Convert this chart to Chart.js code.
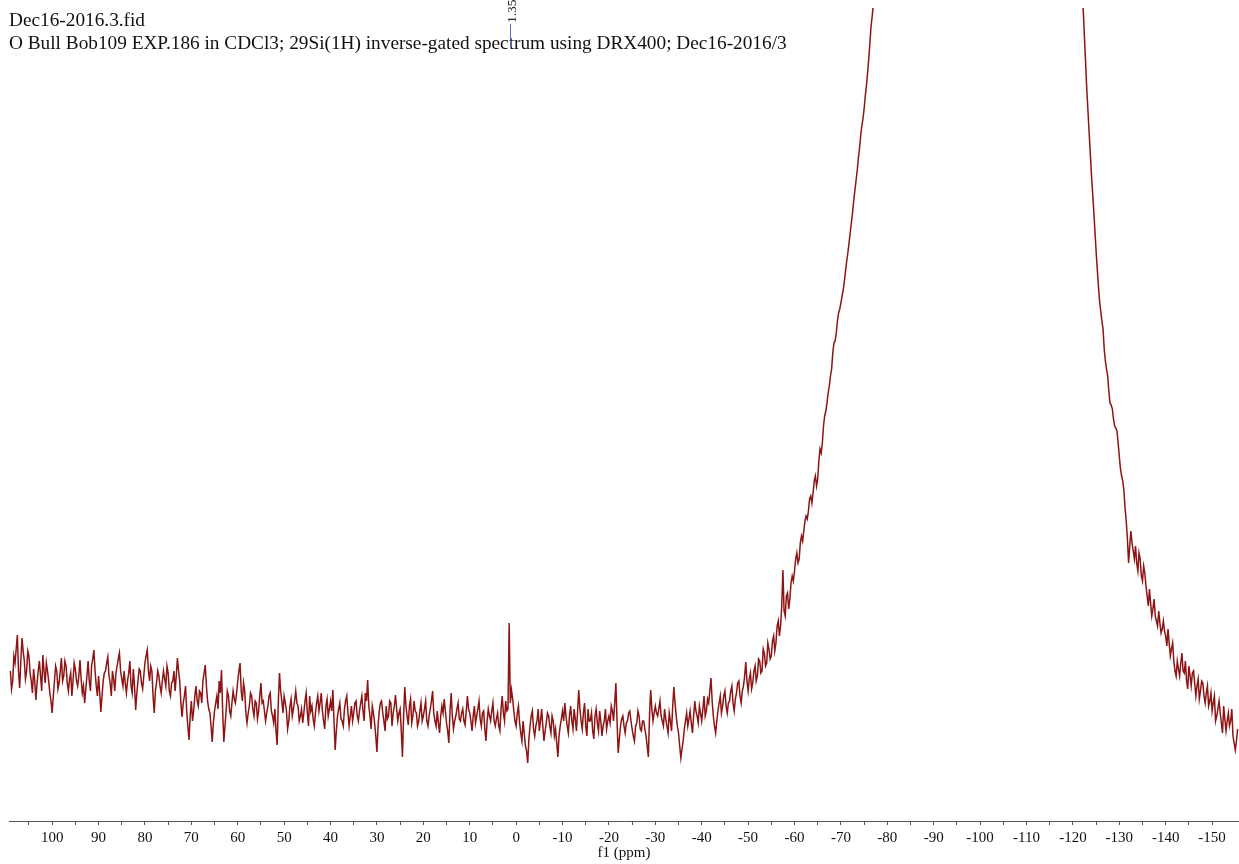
<!DOCTYPE html>
<html>
<head>
<meta charset="utf-8">
<script src="https://cdn.jsdelivr.net/npm/chart.js@4.4.1/dist/chart.umd.min.js"></script>
<style>
  html, body { margin: 0; padding: 0; background: #ffffff; overflow: hidden; }
  canvas { display: block; }
</style>
</head>
<body>
<canvas id="chart" width="1239" height="864"></canvas>
<script>
// ---------- texts ----------
const headerTitle = 'Dec16-2016.3.fid';
const headerSubtitle = 'O Bull Bob109 EXP.186 in CDCl3; 29Si(1H) inverse-gated spectrum using DRX400; Dec16-2016/3';
const axisTitle = 'f1 (ppm)';

// ---------- peak labels (ppm) ----------
const peakLabels = [1.35];

// ---------- x-axis ticks (ppm) ----------
const majorTicks = [100, 90, 80, 70, 60, 50, 40, 30, 20, 10, 0, -10, -20, -30, -40, -50, -60, -70, -80, -90, -100, -110, -120, -130, -140, -150];
const minorTicks = [105, 95, 85, 75, 65, 55, 45, 35, 25, 15, 5, -5, -15, -25, -35, -45, -55, -65, -75, -85, -95, -105, -115, -125, -135, -145];

// ---------- spectrum, segment 1: 109 -> -77 ppm, every 0.25 ppm (arbitrary intensity units) ----------
const seg1Start = 109, seg1Step = -0.25;
const s1_109 = [150,132,140,165,158,172,186,150,133,160,183,170,160,142,150,170,165,148,140,128,152,140,121,138,150,160,145,130,166,150,138,158,150,140,128,120];
const s1_100 = [108,125,140,155,150,132,138,150,163,140,145,160,155,138,130,142,148,125,140,158,152,140,135,145,161,142,128,135,118,132,145,160,140,130,155,162,171,150,135,125];
const s1_90 = [145,128,109,125,140,148,150,158,164,145,138,125,150,142,130,148,155,162,168,150,142,135,150,138,128,140,148,160,135,128,152,135,111,128,140,152,150,138,132,145];
const s1_80 = [158,165,171,150,140,155,150,125,108,130,138,150,145,135,128,140,150,142,135,155,148,130,125,138,140,150,130,145,163,150,140,118,104,118,125,135,110,95,81,105];
const s1_70 = [120,100,110,125,135,120,115,130,128,118,140,148,156,135,120,112,108,95,79,98,110,118,125,112,140,128,151,110,79,95,110,130,125,110,105,118,130,122,118,128];
const s1_60 = [140,150,158,130,120,138,130,108,98,108,115,128,125,112,105,120,118,102,110,125,138,118,120,110,100,108,115,125,128,110,105,98,112,90,76,120,148,130,120,108];
const s1_50 = [125,118,110,92,100,115,122,105,112,120,130,118,115,100,105,112,98,108,120,128,108,95,125,110,115,102,95,108,118,125,110,118,128,110,100,92,115,122,105,112];
const s1_40 = [120,110,131,100,71,90,105,112,118,102,100,95,112,120,125,108,95,105,115,100,108,118,120,105,100,110,118,125,110,100,128,120,141,115,105,92,115,108,98,85];
const s1_30 = [69,95,110,118,120,108,100,90,115,102,105,120,118,95,108,115,126,112,100,108,112,90,64,105,134,115,105,96,115,122,98,105,120,110,108,95,100,110,118,100];
const s1_20 = [105,112,120,100,95,105,112,120,130,108,100,95,110,98,88,105,115,108,122,110,98,90,78,110,128,105,92,100,105,112,118,102,100,108,112,100,96,110,125,112];
const s1_10 = [108,100,90,105,115,98,105,112,120,102,95,108,110,92,80,100,112,105,100,110,118,100,95,102,108,95,90,112,125,108,100,120,110,112,198,118,131,122,110,100];
const s1_0 = [95,108,115,98,88,80,100,88,75,70,58,82,95,105,110,92,85,95,100,112,90,100,112,95,80,90,98,108,105,95,88,105,100,85,92,78,64,85,95,102];
const s1_m10 = [110,100,118,105,95,88,105,115,100,92,112,102,90,110,131,112,100,92,108,118,95,85,112,100,100,108,90,82,105,112,98,90,110,100,85,95,100,112,92,100];
const s1_m20 = [105,98,115,110,100,118,138,100,68,82,95,102,105,95,88,98,100,108,110,100,92,85,80,95,98,110,105,92,90,100,100,92,85,75,64,105,131,112,100,108];
const s1_m30 = [115,108,105,112,120,105,100,95,112,102,95,88,108,100,90,115,134,118,105,95,88,75,63,72,80,92,100,108,95,102,110,98,88,105,120,110,105,98,115,108];
const s1_m40 = [100,112,125,105,110,122,118,130,143,120,105,95,88,100,110,118,125,108,115,125,130,115,108,118,120,130,135,118,110,122,128,138,140,125,118,130,135,145,159,140];
const s1_m50 = [130,142,148,132,138,150,155,140,145,162,160,148,150,172,168,155,158,178,172,162,165,180,185,170,178,195,200,185,195,215,251,210,205,225,228,212,222,238,245,240];
const s1_m60 = [250,262,268,258,262,278,285,280,290,300,305,302,310,322,325,318,328,340,345,335,342,360,372,368,378,395,405,410,418,428,435,445,452,468,478,480,488,500,508,512];
const s1_m70 = [518,525,531,540,550,560,568,578,588,598,608,620,630,640,650,662,672,685,695,702,712,725,735,748,762,778,795,805,818];

// ---------- spectrum, segment 2: -77.5 -> -121.5 ppm, every 0.5 ppm (main peak, off scale) ----------
const seg2Start = -77.5, seg2Step = -0.5;
const s2_peak = [850,885,920,960,1000,
  1050,1100,1160,1220,1290,1360,1440,1520,1610,1700,1800,1900,2010,2120,2240,2360,2490,2620,2760,2900,
  3040,3180,3320,3460,3600,3730,3850,3960,4060,4150,4230,4300,4360,4410,4450,4480,4500,4510,4515,4510,
  4500,4480,4450,4410,4360,4300,4230,4150,4060,3960,3850,3730,3600,3460,3320,3180,3040,2900,2760,2620,
  2490,2360,2240,2120,2010,1900,1800,1700,1610,1520,1440,1360,1290,1220,1160,1100,1050,1000,960,920,
  890,875,860,848];

// ---------- spectrum, segment 3: -122 -> -155.5 ppm, every 0.25 ppm ----------
const seg3Start = -122, seg3Step = -0.25;
const s3_m122 = [835,809,783,757,731,710,688,668,646,628,610,590,570,552,535,520,510,500,492,472,460,452,445,430,418,416,412,402,395,393,390,378];
const s3_m130 = [365,352,345,340,330,312,300,282,258,275,290,278,270,262,275,258,250,268,262,245,240,255,248,235,225,215,232,218,205,212,222,205,200,195,210,198,188,192,200,190];
const s3_m140 = [185,175,192,178,165,172,178,160,150,145,160,152,145,158,168,150,148,160,140,132,155,145,135,148,150,138,125,135,142,122,130,140,138,125,118,128,135,115,120,128];
const s3_m150 = [110,118,125,100,105,112,120,108,98,88,115,102,90,100,108,95,100,112,85,78,71,80,92];

const seg1 = [].concat(s1_109, s1_100, s1_90, s1_80, s1_70, s1_60, s1_50, s1_40, s1_30, s1_20, s1_10,
  s1_0, s1_m10, s1_m20, s1_m30, s1_m40, s1_m50, s1_m60, s1_m70);
const seg3 = [].concat(s3_m122, s3_m130, s3_m140, s3_m150);

const spectrumPoints = [].concat(
  seg1.map((v, i) => ({ x: seg1Start + i * seg1Step, y: v })),
  s2_peak.map((v, i) => ({ x: seg2Start + i * seg2Step, y: v })),
  seg3.map((v, i) => ({ x: seg3Start + i * seg3Step, y: v }))
);

const serif = '"Liberation Serif", "Times New Roman", Times, serif';

const headerPlugin = {
  id: 'headerPlugin',
  afterDraw(chart) {
    const ctx = chart.ctx;
    const xs = chart.scales.x;
    ctx.save();
    ctx.fillStyle = '#111111';
    ctx.font = '19.3px ' + serif;
    ctx.textAlign = 'left';
    ctx.textBaseline = 'alphabetic';
    ctx.fillText(headerTitle, 9, 26);
    ctx.fillText(headerSubtitle, 9, 49);

    peakLabels.forEach(p => {
      const x = Math.round(xs.getPixelForValue(p)) + 0.5;
      ctx.strokeStyle = '#5b6ec4';
      ctx.lineWidth = 1;
      ctx.beginPath();
      ctx.moveTo(x, 24);
      ctx.lineTo(x, 48);
      ctx.stroke();
      ctx.save();
      ctx.translate(x + 1.5, 23);
      ctx.rotate(-Math.PI / 2);
      ctx.fillStyle = '#222222';
      ctx.font = '13.5px ' + serif;
      ctx.textAlign = 'left';
      ctx.textBaseline = 'middle';
      ctx.fillText(p.toFixed(2), 0, 0);
      ctx.restore();
    });
    ctx.restore();
  }
};

new Chart(document.getElementById('chart').getContext('2d'), {
  type: 'line',
  data: {
    datasets: [{
      data: spectrumPoints,
      borderColor: '#8e1414',
      borderWidth: 1.5,
      pointRadius: 0,
      tension: 0,
      fill: false
    }]
  },
  options: {
    responsive: false,
    animation: false,
    devicePixelRatio: 1,
    layout: { padding: { left: 9, right: 0, top: 8, bottom: 2 } },
    plugins: { legend: { display: false }, tooltip: { enabled: false } },
    scales: {
      x: {
        type: 'linear',
        reverse: true,
        min: -155.8,
        max: 109.3,
        afterBuildTicks: (scale) => {
          scale.ticks = majorTicks.concat(minorTicks).sort((a, b) => a - b).map(v => ({ value: v }));
        },
        ticks: {
          autoSkip: false,
          maxRotation: 0,
          padding: 4,
          color: '#111111',
          font: { family: serif, size: 15 },
          callback: (v) => (majorTicks.includes(v) ? String(v) : '')
        },
        grid: { drawOnChartArea: false, drawTicks: true, tickLength: 4, color: '#555555' },
        border: { display: true, color: '#555555', width: 1 },
        title: {
          display: true,
          text: axisTitle,
          color: '#111111',
          font: { family: serif, size: 15 },
          padding: { top: -7, bottom: 0 }
        }
      },
      y: { display: false, min: 0, max: 813 }
    }
  },
  plugins: [headerPlugin]
});
</script>
</body>
</html>
